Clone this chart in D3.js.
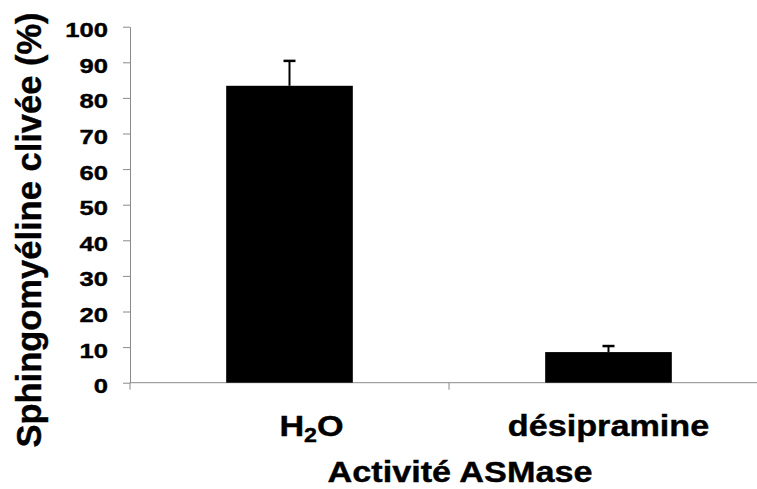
<!DOCTYPE html>
<html>
<head>
<meta charset="utf-8">
<script src="https://cdn.jsdelivr.net/npm/d3@7"></script>
<style>
  body { margin: 0; background: #fff; }
  svg { display: block; overflow: hidden; }
  text { font-family: "Liberation Sans", Arial, sans-serif; font-weight: bold; fill: #000; stroke: #000; stroke-width: 0.4px; }
</style>
</head>
<body>
<svg id="chart" width="757" height="489"></svg>
<script>
// data
const categories = ["H2O", "désipramine"];
const values = [83.4, 8.6];
const errors = [7.0, 1.7];
const yTicks = [0, 10, 20, 30, 40, 50, 60, 70, 80, 90, 100];

const width = 757, height = 489;
const axisColor = "#8a8a8a";
const stretch = 1.22;    // tick digits are wider than Arial bold
const labelStretch = 1.16;

const svg = d3.select("#chart");

const x = d3.scaleBand()
    .domain(categories)
    .range([130, 768])
    .padding(0);

const y = d3.scaleLinear()
    .domain([0, 100])
    .range([382.7, 26.7]);

const barWidth = x.bandwidth() * 0.397;

// y axis
const yAxis = svg.append("g")
    .attr("transform", "translate(130,0)")
    .call(d3.axisLeft(y).tickValues(yTicks).tickSize(7).tickSizeOuter(0).tickFormat(d3.format("d")));

yAxis.attr("font-family", null).attr("font-size", null);
yAxis.select(".domain").attr("stroke", axisColor);
yAxis.selectAll(".tick line").attr("stroke", axisColor);
yAxis.selectAll(".tick text")
    .attr("fill", "#000")
    .attr("font-size", 21)
    .attr("x", -22 / stretch)
    .attr("dy", 10)
    .attr("transform", `scale(${stretch},1)`);

// x axis line and category boundary ticks
svg.append("line")
    .attr("x1", x.range()[0]).attr("x2", x.range()[1])
    .attr("y1", y(0)).attr("y2", y(0))
    .attr("stroke", axisColor);

const edges = categories.map(c => x(c)).concat([x.range()[1]]);
svg.selectAll(".xtick")
  .data(edges)
  .enter().append("line")
    .attr("class", "xtick")
    .attr("x1", d => d).attr("x2", d => d)
    .attr("y1", y(0)).attr("y2", y(0) + 7)
    .attr("stroke", axisColor);

// bars
svg.selectAll(".bar")
  .data(categories)
  .enter().append("rect")
    .attr("class", "bar")
    .attr("x", d => x(d) + x.bandwidth() / 2 - barWidth / 2)
    .attr("y", (d, i) => y(values[i]))
    .attr("width", barWidth)
    .attr("height", (d, i) => y(0) - y(values[i]))
    .attr("fill", "#000");

// error bars (upper half only, like the original)
const err = svg.selectAll(".err")
  .data(categories)
  .enter().append("g")
    .attr("class", "err")
    .attr("transform", d => `translate(${x(d) + x.bandwidth() / 2},0)`);

err.append("line")
    .attr("x1", 0).attr("x2", 0)
    .attr("y1", (d, i) => y(values[i]))
    .attr("y2", (d, i) => y(values[i] + errors[i]))
    .attr("stroke", "#000")
    .attr("stroke-width", 2);

err.append("line")
    .attr("x1", -6).attr("x2", 6)
    .attr("y1", (d, i) => y(values[i] + errors[i]))
    .attr("y2", (d, i) => y(values[i] + errors[i]))
    .attr("stroke", "#000")
    .attr("stroke-width", 2.5);

// category labels
const labels = svg.selectAll(".cat")
  .data(categories)
  .enter().append("text")
    .attr("class", "cat")
    .attr("text-anchor", "middle")
    .attr("font-size", 29.5)
    .attr("transform", (d, i) => `translate(${x(d) + x.bandwidth() / 2 + (i === 0 ? 22 : 0)},436) scale(${labelStretch},1)`);

labels.each(function(d) {
  const t = d3.select(this);
  if (d === "H2O") {
    t.append("tspan").text("H");
    t.append("tspan").attr("font-size", 20).attr("dy", 6).text("2");
    t.append("tspan").attr("dy", -6).text("O");
  } else {
    t.text(d);
  }
});

// axis titles
svg.append("text")
    .attr("text-anchor", "middle")
    .attr("font-size", 29.5)
    .attr("transform", `translate(460,481.7) scale(${labelStretch},1)`)
    .text("Activité ASMase");

svg.append("text")
    .attr("text-anchor", "middle")
    .attr("font-size", 34.5)
    .attr("transform", "translate(41,230) rotate(-90)")
    .text("Sphingomyéline clivée (%)");
</script>
</body>
</html>
